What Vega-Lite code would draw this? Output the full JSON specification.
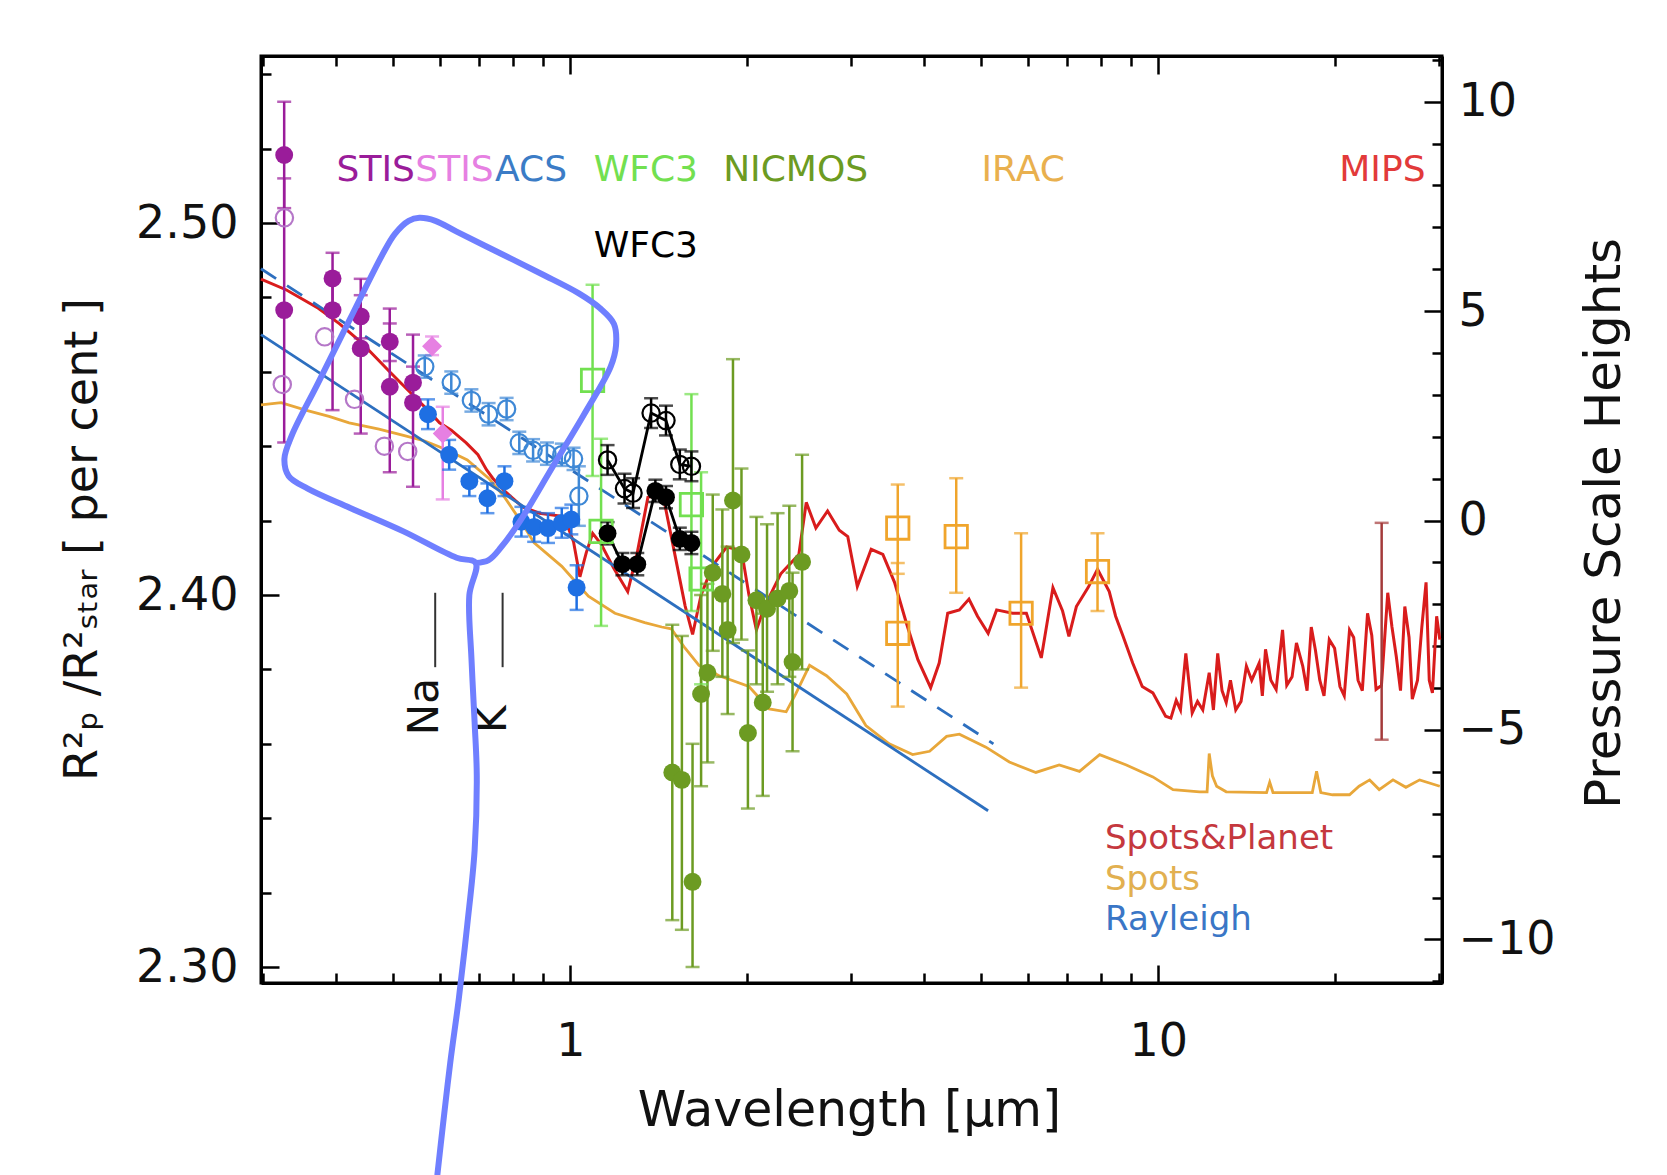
{
  "$schema": "https://vega.github.io/schema/vega-lite/v6.json",
  "width": 1181,
  "height": 927,
  "autosize": {"type": "none"},
  "padding": {"left": 261, "top": 56, "right": 225, "bottom": 192},
  "background": "white",
  "config": {
    "view": {"stroke": "black", "strokeWidth": 3},
    "axis": {"domainColor": "black", "domainWidth": 3, "tickColor": "black", "tickWidth": 2.5, "labelFont": "DejaVu Sans", "labelFontSize": 46, "labelColor": "#111", "titleFont": "DejaVu Sans", "titleFontWeight": "normal", "titleColor": "#111", "grid": false, "labelOverlap": false, "labelFlush": false, "labelBound": false}
  },
  "datasets": {
    "models": [
      {"m":"red","lam":0.2977,"v":2.4849},{"m":"red","lam":0.329,"v":2.482},{"m":"red","lam":0.3726,"v":2.4771},{"m":"red","lam":0.4051,"v":2.4729},{"m":"red","lam":0.4403,"v":2.468},{"m":"red","lam":0.4928,"v":2.46},{"m":"red","lam":0.5401,"v":2.4537},{"m":"red","lam":0.5772,"v":2.4491},{"m":"red","lam":0.5991,"v":2.4463},{"m":"red","lam":0.6273,"v":2.4443},{"m":"red","lam":0.6651,"v":2.4409},{"m":"red","lam":0.6964,"v":2.4377},{"m":"red","lam":0.72,"v":2.4337},{"m":"red","lam":0.7379,"v":2.4314},{"m":"red","lam":0.7727,"v":2.428},{"m":"red","lam":0.8291,"v":2.4237},{"m":"red","lam":0.8863,"v":2.422},{"m":"red","lam":0.9754,"v":2.4211},{"m":"red","lam":1.0126,"v":2.4143},{"m":"red","lam":1.0382,"v":2.4049},{"m":"red","lam":1.0645,"v":2.4114},{"m":"red","lam":1.0914,"v":2.4166},{"m":"red","lam":1.1282,"v":2.4137},{"m":"red","lam":1.1862,"v":2.4071},{"m":"red","lam":1.2521,"v":2.4009},{"m":"red","lam":1.2999,"v":2.4114},{"m":"red","lam":1.3552,"v":2.4263},{"m":"red","lam":1.4364,"v":2.4271},{"m":"red","lam":1.5038,"v":2.4114},{"m":"red","lam":1.5677,"v":2.3971},{"m":"red","lam":1.6144,"v":2.3894},{"m":"red","lam":1.6691,"v":2.4},{"m":"red","lam":1.7474,"v":2.408},{"m":"red","lam":1.8446,"v":2.4129},{"m":"red","lam":1.9553,"v":2.412},{"m":"red","lam":2.0131,"v":2.4},{"m":"red","lam":2.0728,"v":2.3906},{"m":"red","lam":2.1428,"v":2.3971},{"m":"red","lam":2.2803,"v":2.4057},{"m":"red","lam":2.4477,"v":2.4109},{"m":"red","lam":2.5199,"v":2.4249},{"m":"red","lam":2.6166,"v":2.418},{"m":"red","lam":2.7393,"v":2.4226},{"m":"red","lam":2.8676,"v":2.4174},{"m":"red","lam":2.9648,"v":2.4157},{"m":"red","lam":3.0776,"v":2.4023},{"m":"red","lam":3.2494,"v":2.4123},{"m":"red","lam":3.4012,"v":2.4109},{"m":"red","lam":3.5606,"v":2.4034},{"m":"red","lam":3.7273,"v":2.3926},{"m":"red","lam":3.9018,"v":2.3826},{"m":"red","lam":4.102,"v":2.3751},{"m":"red","lam":4.2413,"v":2.3817},{"m":"red","lam":4.3853,"v":2.3951},{"m":"red","lam":4.5905,"v":2.396},{"m":"red","lam":4.766,"v":2.3989},{"m":"red","lam":4.9285,"v":2.3943},{"m":"red","lam":5.1378,"v":2.3897},{"m":"red","lam":5.3113,"v":2.396},{"m":"red","lam":5.6532,"v":2.3951},{"m":"red","lam":5.9683,"v":2.3951},{"m":"red","lam":6.3269,"v":2.3831},{"m":"red","lam":6.6222,"v":2.402},{"m":"red","lam":6.8771,"v":2.3957},{"m":"red","lam":7.0502,"v":2.3889},{"m":"red","lam":7.2593,"v":2.3969},{"m":"red","lam":7.5996,"v":2.402},{"m":"red","lam":7.8868,"v":2.4069},{"m":"red","lam":8.2565,"v":2.4009},{"m":"red","lam":8.4659,"v":2.3943},{"m":"red","lam":8.7161,"v":2.3889},{"m":"red","lam":9.0499,"v":2.3817},{"m":"red","lam":9.3955,"v":2.3754},{"m":"red","lam":9.7949,"v":2.3737},{"m":"red","lam":10.297,"v":2.3674},{"m":"red","lam":10.733,"v":2.3717},{"m":"red","lam":11.145,"v":2.3843},{"m":"red","lam":11.427,"v":2.3683},{"m":"red","lam":11.911,"v":2.3691},{"m":"red","lam":12.214,"v":2.3791},{"m":"red","lam":12.628,"v":2.3843},{"m":"red","lam":13.055,"v":2.3711},{"m":"red","lam":13.552,"v":2.3691},{"m":"red","lam":14.129,"v":2.3809},{"m":"red","lam":14.852,"v":2.3817},{"m":"red","lam":15.228,"v":2.3854},{"m":"red","lam":15.875,"v":2.3746},{"m":"red","lam":16.278,"v":2.3906},{"m":"red","lam":16.898,"v":2.378},{"m":"red","lam":17.618,"v":2.3809},{"m":"red","lam":18.217,"v":2.3914},{"m":"red","lam":18.834,"v":2.3771},{"m":"red","lam":19.548,"v":2.388},{"m":"red","lam":20.382,"v":2.3754},{"m":"red","lam":21.162,"v":2.3906},{"m":"red","lam":21.878,"v":2.3771},{"m":"red","lam":22.71,"v":2.3951},{"m":"red","lam":23.48,"v":2.3746},{"m":"red","lam":24.58,"v":2.4006},{"m":"red","lam":25.42,"v":2.3834},{"m":"red","lam":26.28,"v":2.3969},{"m":"red","lam":27.06,"v":2.372},{"m":"red","lam":28.56,"v":2.4034},{"m":"red","lam":29.28,"v":2.3737},{"m":"red","lam":30.14,"v":2.388},
      {"m":"red","lam":10.512,"v":2.3669},{"m":"red","lam":10.914,"v":2.3691},{"m":"red","lam":11.667,"v":2.3714},{"m":"red","lam":12.417,"v":2.3691},{"m":"red","lam":12.843,"v":2.3743},{"m":"red","lam":13.274,"v":2.3771},{"m":"red","lam":13.836,"v":2.3714},{"m":"red","lam":14.426,"v":2.3771},{"m":"red","lam":15.04,"v":2.3729},{"m":"red","lam":15.55,"v":2.3771},{"m":"red","lam":16.08,"v":2.3829},{"m":"red","lam":16.55,"v":2.3757},{"m":"red","lam":17.19,"v":2.3871},{"m":"red","lam":17.92,"v":2.3743},{"m":"red","lam":18.52,"v":2.3851},{"m":"red","lam":19.15,"v":2.3729},{"m":"red","lam":19.96,"v":2.3857},{"m":"red","lam":20.73,"v":2.3729},{"m":"red","lam":21.51,"v":2.3886},{"m":"red","lam":22.25,"v":2.3743},{"m":"red","lam":23.09,"v":2.3891},{"m":"red","lam":23.98,"v":2.3757},{"m":"red","lam":24.99,"v":2.3914},{"m":"red","lam":25.84,"v":2.3743},{"m":"red","lam":26.72,"v":2.3886},{"m":"red","lam":27.62,"v":2.3771},{"m":"red","lam":28.09,"v":2.3914},{"m":"red","lam":28.92,"v":2.3771},{"m":"red","lam":29.77,"v":2.3943},
      {"m":"spots","lam":0.2977,"v":2.4511},{"m":"spots","lam":0.3221,"v":2.4517},{"m":"spots","lam":0.3545,"v":2.4497},{"m":"spots","lam":0.3886,"v":2.448},{"m":"spots","lam":0.4205,"v":2.4463},{"m":"spots","lam":0.4726,"v":2.4446},{"m":"spots","lam":0.5201,"v":2.4429},{"m":"spots","lam":0.5654,"v":2.4414},{"m":"spots","lam":0.6144,"v":2.4391},{"m":"spots","lam":0.6679,"v":2.4363},{"m":"spots","lam":0.726,"v":2.4314},{"m":"spots","lam":0.7727,"v":2.4263},{"m":"spots","lam":0.8222,"v":2.42},{"m":"spots","lam":0.868,"v":2.414},{"m":"spots","lam":0.9672,"v":2.4077},{"m":"spots","lam":1.0733,"v":2.3997},{"m":"spots","lam":1.1909,"v":2.3951},{"m":"spots","lam":1.3384,"v":2.3926},{"m":"spots","lam":1.4305,"v":2.3914},{"m":"spots","lam":1.4851,"v":2.3909},{"m":"spots","lam":1.5677,"v":2.3857},{"m":"spots","lam":1.6553,"v":2.3811},{"m":"spots","lam":1.7915,"v":2.3783},{"m":"spots","lam":2.0131,"v":2.3754},{"m":"spots","lam":2.1788,"v":2.3694},{"m":"spots","lam":2.329,"v":2.3686},{"m":"spots","lam":2.4181,"v":2.3734},{"m":"spots","lam":2.5525,"v":2.3811},{"m":"spots","lam":2.7279,"v":2.3783},{"m":"spots","lam":2.9525,"v":2.3734},{"m":"spots","lam":3.1823,"v":2.3649},{"m":"spots","lam":3.4874,"v":2.36},{"m":"spots","lam":3.8221,"v":2.3571},{"m":"spots","lam":4.0851,"v":2.358},{"m":"spots","lam":4.3663,"v":2.362},{"m":"spots","lam":4.5905,"v":2.3626},{"m":"spots","lam":5.0936,"v":2.3591},{"m":"spots","lam":5.5822,"v":2.3551},{"m":"spots","lam":6.1944,"v":2.3523},{"m":"spots","lam":6.7866,"v":2.3543},{"m":"spots","lam":7.3484,"v":2.3526},{"m":"spots","lam":7.9524,"v":2.3571},{"m":"spots","lam":8.828,"v":2.3543},{"m":"spots","lam":9.7949,"v":2.3511},{"m":"spots","lam":10.6,"v":2.3477},{"m":"spots","lam":11.764,"v":2.3471},{"m":"spots","lam":12.113,"v":2.3471},{"m":"spots","lam":12.214,"v":2.3574},{"m":"spots","lam":12.367,"v":2.3514},{"m":"spots","lam":12.575,"v":2.3486},{"m":"spots","lam":13.055,"v":2.3471},{"m":"spots","lam":15.29,"v":2.3469},{"m":"spots","lam":15.48,"v":2.3497},{"m":"spots","lam":15.68,"v":2.3469},{"m":"spots","lam":18.29,"v":2.3469},{"m":"spots","lam":18.6,"v":2.3526},{"m":"spots","lam":18.91,"v":2.3469},{"m":"spots","lam":19.8,"v":2.3463},{"m":"spots","lam":21.16,"v":2.3463},{"m":"spots","lam":21.97,"v":2.3486},{"m":"spots","lam":22.9,"v":2.3503},{"m":"spots","lam":23.77,"v":2.3477},{"m":"spots","lam":25.09,"v":2.3503},{"m":"spots","lam":26.39,"v":2.3483},{"m":"spots","lam":27.85,"v":2.3503},{"m":"spots","lam":30.14,"v":2.3486},
      {"m":"ray","lam":0.2977,"v":2.47},{"m":"ray","lam":5.137,"v":2.342},
      {"m":"rayd","lam":0.2977,"v":2.4877},{"m":"rayd","lam":5.245,"v":2.36}
    ],
    "pts": [
      {"s":"stisA","lam":0.326,"v":2.5183,"lo":2.504,"hi":2.5326},
      {"s":"stisA","lam":0.326,"v":2.4766,"lo":2.441,"hi":2.512},
      {"s":"stisA","lam":0.394,"v":2.4851,"lo":2.478,"hi":2.492},
      {"s":"stisA","lam":0.394,"v":2.4766,"lo":2.4497,"hi":2.4866},
      {"s":"stisA","lam":0.44,"v":2.4749,"lo":2.469,"hi":2.4806},
      {"s":"stisA","lam":0.44,"v":2.4663,"lo":2.4434,"hi":2.485},
      {"s":"stisA","lam":0.493,"v":2.4681,"lo":2.4629,"hi":2.473},
      {"s":"stisA","lam":0.493,"v":2.456,"lo":2.433,"hi":2.477},
      {"s":"stisA","lam":0.54,"v":2.4571,"lo":2.4517,"hi":2.4614},
      {"s":"stisA","lam":0.54,"v":2.4517,"lo":2.4291,"hi":2.47},
      {"s":"stisAo","lam":0.3263,"v":2.5014},
      {"s":"stisAo","lam":0.3236,"v":2.4566},
      {"s":"stisAo","lam":0.382,"v":2.4694},
      {"s":"stisAo","lam":0.4294,"v":2.4526},
      {"s":"stisAo","lam":0.4827,"v":2.44},
      {"s":"stisAo","lam":0.5289,"v":2.4386},
      {"s":"stisB","lam":0.5818,"v":2.4669,"lo":2.4645,"hi":2.4695},
      {"s":"stisB","lam":0.6067,"v":2.4434,"lo":2.4257,"hi":2.4506},
      {"s":"acs","lam":0.5726,"v":2.4486,"lo":2.4446,"hi":2.4526},
      {"s":"acs","lam":0.6221,"v":2.4377,"lo":2.4337,"hi":2.4417},
      {"s":"acs","lam":0.6733,"v":2.4306,"lo":2.4266,"hi":2.4346},
      {"s":"acs","lam":0.7227,"v":2.426,"lo":2.422,"hi":2.43},
      {"s":"acs","lam":0.7726,"v":2.4306,"lo":2.4266,"hi":2.4346},
      {"s":"acs","lam":0.8256,"v":2.4197,"lo":2.4157,"hi":2.4237},
      {"s":"acs","lam":0.868,"v":2.4183,"lo":2.4143,"hi":2.4223},
      {"s":"acs","lam":0.9163,"v":2.418,"lo":2.414,"hi":2.422},
      {"s":"acs","lam":0.967,"v":2.4194,"lo":2.4154,"hi":2.4234},
      {"s":"acs","lam":1.004,"v":2.4203,"lo":2.4163,"hi":2.4243},
      {"s":"acs","lam":1.025,"v":2.402,"lo":2.396,"hi":2.408},
      {"s":"acso","lam":0.5654,"v":2.4614,"lo":2.4584,"hi":2.4644},
      {"s":"acso","lam":0.6273,"v":2.4571,"lo":2.4541,"hi":2.4601},
      {"s":"acso","lam":0.6788,"v":2.4523,"lo":2.4493,"hi":2.4553},
      {"s":"acso","lam":0.726,"v":2.4486,"lo":2.4456,"hi":2.4516},
      {"s":"acso","lam":0.7791,"v":2.45,"lo":2.447,"hi":2.453},
      {"s":"acso","lam":0.8188,"v":2.4409,"lo":2.4379,"hi":2.4439},
      {"s":"acso","lam":0.8643,"v":2.4389,"lo":2.4359,"hi":2.4419},
      {"s":"acso","lam":0.9125,"v":2.438,"lo":2.435,"hi":2.441},
      {"s":"acso","lam":0.9672,"v":2.4377,"lo":2.4347,"hi":2.4407},
      {"s":"acso","lam":1.0126,"v":2.4366,"lo":2.4336,"hi":2.4396},
      {"s":"acso","lam":1.034,"v":2.4266,"lo":2.4186,"hi":2.4346},
      {"s":"wfc3g","lam":1.091,"v":2.4577,"lo":2.432,"hi":2.4834},
      {"s":"wfc3g","lam":1.128,"v":2.4171,"lo":2.3917,"hi":2.442},
      {"s":"wfc3g","lam":1.607,"v":2.4243,"lo":2.3957,"hi":2.454},
      {"s":"wfc3g","lam":1.669,"v":2.4043,"lo":2.376,"hi":2.433},
      {"s":"nic","lam":1.491,"v":2.3523,"lo":2.3126,"hi":2.392},
      {"s":"nic","lam":1.548,"v":2.3503,"lo":2.31,"hi":2.389},
      {"s":"nic","lam":1.614,"v":2.3229,"lo":2.3,"hi":2.36},
      {"s":"nic","lam":1.669,"v":2.3734,"lo":2.3486,"hi":2.4},
      {"s":"nic","lam":1.711,"v":2.3791,"lo":2.355,"hi":2.403},
      {"s":"nic","lam":1.747,"v":2.406,"lo":2.385,"hi":2.427},
      {"s":"nic","lam":1.814,"v":2.4003,"lo":2.378,"hi":2.423},
      {"s":"nic","lam":1.852,"v":2.3906,"lo":2.368,"hi":2.413},
      {"s":"nic","lam":1.891,"v":2.4254,"lo":2.3871,"hi":2.4634},
      {"s":"nic","lam":1.955,"v":2.4109,"lo":2.388,"hi":2.434},
      {"s":"nic","lam":2.005,"v":2.3629,"lo":2.3426,"hi":2.3851},
      {"s":"nic","lam":2.073,"v":2.3986,"lo":2.376,"hi":2.421},
      {"s":"nic","lam":2.125,"v":2.3711,"lo":2.346,"hi":2.395},
      {"s":"nic","lam":2.161,"v":2.3963,"lo":2.374,"hi":2.419},
      {"s":"nic","lam":2.252,"v":2.3991,"lo":2.376,"hi":2.422},
      {"s":"nic","lam":2.358,"v":2.4011,"lo":2.378,"hi":2.424},
      {"s":"nic","lam":2.388,"v":2.382,"lo":2.358,"hi":2.406},
      {"s":"nic","lam":2.479,"v":2.4089,"lo":2.38,"hi":2.4377},
      {"s":"wfc3k","lam":1.157,"v":2.4166,"lo":2.4136,"hi":2.4196},
      {"s":"wfc3k","lam":1.2263,"v":2.4083,"lo":2.4053,"hi":2.4113},
      {"s":"wfc3k","lam":1.2999,"v":2.4083,"lo":2.4053,"hi":2.4113},
      {"s":"wfc3k","lam":1.3953,"v":2.428,"lo":2.425,"hi":2.431},
      {"s":"wfc3k","lam":1.4545,"v":2.4263,"lo":2.4233,"hi":2.4293},
      {"s":"wfc3k","lam":1.5356,"v":2.4151,"lo":2.4121,"hi":2.4181},
      {"s":"wfc3k","lam":1.607,"v":2.414,"lo":2.411,"hi":2.417},
      {"s":"wfc3ko","lam":1.157,"v":2.4363,"lo":2.4323,"hi":2.4403},
      {"s":"wfc3ko","lam":1.2365,"v":2.4286,"lo":2.4246,"hi":2.4326},
      {"s":"wfc3ko","lam":1.2785,"v":2.4274,"lo":2.4234,"hi":2.4314},
      {"s":"wfc3ko","lam":1.3722,"v":2.4489,"lo":2.4449,"hi":2.4529},
      {"s":"wfc3ko","lam":1.4545,"v":2.4469,"lo":2.4429,"hi":2.4509},
      {"s":"wfc3ko","lam":1.5356,"v":2.4351,"lo":2.4311,"hi":2.4391},
      {"s":"wfc3ko","lam":1.607,"v":2.4346,"lo":2.4306,"hi":2.4386},
      {"s":"irac","lam":3.606,"v":2.418,"lo":2.4057,"hi":2.4297},
      {"s":"irac","lam":3.606,"v":2.3897,"lo":2.37,"hi":2.4086},
      {"s":"irac","lam":4.534,"v":2.4157,"lo":2.4006,"hi":2.4314},
      {"s":"irac","lam":5.846,"v":2.3951,"lo":2.3751,"hi":2.4166},
      {"s":"irac","lam":7.886,"v":2.4063,"lo":2.3957,"hi":2.4166},
      {"s":"mips","lam":24.0,"v":2.3903,"lo":2.3611,"hi":2.4194}
    ],
    "annot": [
      {"i":0,"lam":0.5942,"v":2.2443},{"i":1,"lam":0.6067,"v":2.2571},{"i":2,"lam":0.6248,"v":2.2743},{"i":3,"lam":0.646,"v":2.2914},{"i":4,"lam":0.6679,"v":2.3114},{"i":5,"lam":0.6874,"v":2.3314},{"i":6,"lam":0.6932,"v":2.3514},{"i":7,"lam":0.6874,"v":2.3657},{"i":8,"lam":0.6789,"v":2.3829},{"i":9,"lam":0.6733,"v":2.4},{"i":10,"lam":0.6903,"v":2.4086},{"i":11,"lam":0.6406,"v":2.41},{"i":12,"lam":0.5201,"v":2.4171},{"i":13,"lam":0.4222,"v":2.4234},{"i":14,"lam":0.3575,"v":2.4286},{"i":15,"lam":0.3317,"v":2.432},{"i":16,"lam":0.3263,"v":2.4366},{"i":17,"lam":0.3359,"v":2.4429},{"i":18,"lam":0.3726,"v":2.4571},{"i":19,"lam":0.4222,"v":2.4743},{"i":20,"lam":0.4786,"v":2.4914},{"i":21,"lam":0.503,"v":2.4971},{"i":22,"lam":0.531,"v":2.5006},{"i":23,"lam":0.5537,"v":2.5014},{"i":24,"lam":0.5893,"v":2.5006},{"i":25,"lam":0.6406,"v":2.4977},{"i":26,"lam":0.7566,"v":2.492},{"i":27,"lam":0.8938,"v":2.4863},{"i":28,"lam":1.0339,"v":2.4811},{"i":29,"lam":1.1235,"v":2.4771},{"i":30,"lam":1.1862,"v":2.4729},{"i":31,"lam":1.196,"v":2.4671},{"i":32,"lam":1.1713,"v":2.4614},{"i":33,"lam":1.0556,"v":2.4486},{"i":34,"lam":0.9316,"v":2.4343},{"i":35,"lam":0.8222,"v":2.42},{"i":36,"lam":0.7629,"v":2.4129},{"i":37,"lam":0.726,"v":2.4094},{"i":38,"lam":0.6903,"v":2.4086}
    ],
    "nak": [
      {"lam":0.589,"v":2.4006,"v2":2.3806},
      {"lam":0.767,"v":2.4006,"v2":2.3806}
    ],
    "naktext": [
      {"lam":0.5654,"v":2.37,"t":"Na"},
      {"lam":0.738,"v":2.3666,"t":"K"}
    ],
    "toplabels": [
      {"s":"stisA","lam":0.4667,"v":2.5143,"t":"STIS"},
      {"s":"stisB","lam":0.6353,"v":2.5143,"t":"STIS"},
      {"s":"acsT","lam":0.8572,"v":2.5143,"t":"ACS"},
      {"s":"wfc3g","lam":1.344,"v":2.5143,"t":"WFC3"},
      {"s":"nic","lam":2.417,"v":2.5143,"t":"NICMOS"},
      {"s":"iracT","lam":5.893,"v":2.5143,"t":"IRAC"},
      {"s":"redT","lam":24.07,"v":2.5143,"t":"MIPS"},
      {"s":"wfc3k","lam":1.344,"v":2.4937,"t":"WFC3"}
    ],
    "legendlabels": [
      {"s":"spT","lam":8.121,"v":2.3343,"t":"Spots&Planet"},
      {"s":"spotsT","lam":8.121,"v":2.3234,"t":"Spots"},
      {"s":"rayT","lam":8.121,"v":2.3126,"t":"Rayleigh"}
    ]
  },
  "layer": [
    {
      "layer": [
        {
          "data": {"name": "models"},
          "transform": [{"filter": "datum.m == 'spots'"}],
          "mark": {"type": "line", "color": "#e8a73a", "strokeWidth": 2.8},
          "encoding": {
            "x": {"field": "lam", "type": "quantitative",
              "scale": {"type": "log", "domain": [0.2977, 30.4], "nice": false},
              "axis": {"orient": "bottom",
                "values": [0.3,0.4,0.5,0.6,0.7,0.8,0.9,1,2,3,4,5,6,7,8,9,10,20,30],
                "labelExpr": "(datum.value == 1 || datum.value == 10) ? format(datum.value, 'd') : ''",
                "tickSize": {"condition": {"test": "datum.value == 1 || datum.value == 10", "value": -18}, "value": -10},
                "labelPadding": 54,
                "title": "Wavelength  [μm]", "titleFontSize": 49,
                "titleX": 588, "titleY": 142, "titleBaseline": "alphabetic", "titleAlign": "center"}},
            "y": {"field": "v", "type": "quantitative",
              "scale": {"domain": [2.2957, 2.5449], "nice": false, "zero": false},
              "axis": {"orient": "left",
                "values": [2.3,2.31,2.32,2.33,2.34,2.35,2.36,2.37,2.38,2.39,2.4,2.41,2.42,2.43,2.44,2.45,2.46,2.47,2.48,2.49,2.5,2.51,2.52,2.53,2.54],
                "format": ".2f",
                "labelExpr": "round(datum.value*100) % 5 == 0 ? datum.label : ''",
                "tickSize": {"condition": {"test": "round(datum.value*100) % 5 == 0", "value": -18}, "value": -10},
                "labelPadding": 41,
                "title": "R²ₚ /R²ₛₜₐᵣ   [  per  cent  ]", "titleFontSize": 46,
                "titleAngle": -90, "titleX": -165, "titleY": 483, "titleBaseline": "alphabetic", "titleAlign": "center"}}
          }
        },
        {
          "data": {"name": "models"},
          "transform": [{"filter": "datum.m == 'red'"}],
          "mark": {"type": "line", "color": "#d91c1c", "strokeWidth": 3},
          "encoding": {"x": {"field": "lam", "type": "quantitative"}, "y": {"field": "v", "type": "quantitative"}}
        },
        {
          "data": {"name": "models"},
          "transform": [{"filter": "datum.m == 'ray'"}],
          "mark": {"type": "line", "color": "#2d6fbf", "strokeWidth": 2.8},
          "encoding": {"x": {"field": "lam", "type": "quantitative"}, "y": {"field": "v", "type": "quantitative"}}
        },
        {
          "data": {"name": "models"},
          "transform": [{"filter": "datum.m == 'rayd'"}],
          "mark": {"type": "line", "color": "#2d6fbf", "strokeWidth": 2.8, "strokeDash": [18, 13]},
          "encoding": {"x": {"field": "lam", "type": "quantitative"}, "y": {"field": "v", "type": "quantitative"}}
        },
        {
          "data": {"name": "pts"},
          "transform": [{"filter": "isValid(datum.lo)"}],
          "mark": {"type": "rule", "strokeWidth": 2.5},
          "encoding": {
            "x": {"field": "lam", "type": "quantitative"},
            "y": {"field": "lo", "type": "quantitative"},
            "y2": {"field": "hi"},
            "color": {"field": "s", "type": "nominal", "legend": null,
              "scale": {"domain": ["stisA","stisAo","stisB","acs","acso","wfc3g","wfc3k","wfc3ko","nic","irac","mips","acsT","iracT","redT","spT","spotsT","rayT"],
                        "range": ["#9a1c9a","#b577c8","#e680e2","#1e6fe3","#3e88d6","#72e050","#000000","#000000","#6c9b22","#f0a52c","#a43a3a","#3b7cc6","#e9b04e","#e23a3a","#c5383e","#e2b050","#3a76c6"]}}
          }
        },
        {
          "data": {"name": "pts"},
          "transform": [{"filter": "isValid(datum.lo)"}],
          "mark": {"type": "tick", "orient": "horizontal", "size": 14, "thickness": 2.5},
          "encoding": {
            "x": {"field": "lam", "type": "quantitative"},
            "y": {"field": "lo", "type": "quantitative"},
            "color": {"field": "s", "type": "nominal", "legend": null,
              "scale": {"domain": ["stisA","stisAo","stisB","acs","acso","wfc3g","wfc3k","wfc3ko","nic","irac","mips","acsT","iracT","redT","spT","spotsT","rayT"],
                        "range": ["#9a1c9a","#b577c8","#e680e2","#1e6fe3","#3e88d6","#72e050","#000000","#000000","#6c9b22","#f0a52c","#a43a3a","#3b7cc6","#e9b04e","#e23a3a","#c5383e","#e2b050","#3a76c6"]}}
          }
        },
        {
          "data": {"name": "pts"},
          "transform": [{"filter": "isValid(datum.hi)"}],
          "mark": {"type": "tick", "orient": "horizontal", "size": 14, "thickness": 2.5},
          "encoding": {
            "x": {"field": "lam", "type": "quantitative"},
            "y": {"field": "hi", "type": "quantitative"},
            "color": {"field": "s", "type": "nominal", "legend": null,
              "scale": {"domain": ["stisA","stisAo","stisB","acs","acso","wfc3g","wfc3k","wfc3ko","nic","irac","mips","acsT","iracT","redT","spT","spotsT","rayT"],
                        "range": ["#9a1c9a","#b577c8","#e680e2","#1e6fe3","#3e88d6","#72e050","#000000","#000000","#6c9b22","#f0a52c","#a43a3a","#3b7cc6","#e9b04e","#e23a3a","#c5383e","#e2b050","#3a76c6"]}}
          }
        },
        {
          "data": {"name": "pts"},
          "transform": [{"filter": {"field": "s", "oneOf": ["wfc3k", "wfc3ko"]}}],
          "mark": {"type": "line", "color": "#000000", "strokeWidth": 2.8},
          "encoding": {
            "x": {"field": "lam", "type": "quantitative"},
            "y": {"field": "v", "type": "quantitative"},
            "detail": {"field": "s"},
            "order": {"field": "lam"}
          }
        },
        {
          "data": {"name": "pts"},
          "transform": [{"filter": {"field": "s", "oneOf": ["stisAo", "acso", "wfc3ko"]}}],
          "mark": {"type": "point", "shape": "circle", "filled": false, "size": 300, "strokeWidth": 2.2, "opacity": 1},
          "encoding": {
            "x": {"field": "lam", "type": "quantitative"},
            "y": {"field": "v", "type": "quantitative"},
            "color": {"field": "s", "type": "nominal", "legend": null,
              "scale": {"domain": ["stisA","stisAo","stisB","acs","acso","wfc3g","wfc3k","wfc3ko","nic","irac","mips","acsT","iracT","redT","spT","spotsT","rayT"],
                        "range": ["#9a1c9a","#b577c8","#e680e2","#1e6fe3","#3e88d6","#72e050","#000000","#000000","#6c9b22","#f0a52c","#a43a3a","#3b7cc6","#e9b04e","#e23a3a","#c5383e","#e2b050","#3a76c6"]}}
          }
        },
        {
          "data": {"name": "pts"},
          "transform": [{"filter": {"field": "s", "oneOf": ["wfc3g", "irac"]}}],
          "mark": {"type": "point", "shape": "square", "filled": false, "size": 500, "strokeWidth": 2.8, "opacity": 1},
          "encoding": {
            "x": {"field": "lam", "type": "quantitative"},
            "y": {"field": "v", "type": "quantitative"},
            "color": {"field": "s", "type": "nominal", "legend": null,
              "scale": {"domain": ["stisA","stisAo","stisB","acs","acso","wfc3g","wfc3k","wfc3ko","nic","irac","mips","acsT","iracT","redT","spT","spotsT","rayT"],
                        "range": ["#9a1c9a","#b577c8","#e680e2","#1e6fe3","#3e88d6","#72e050","#000000","#000000","#6c9b22","#f0a52c","#a43a3a","#3b7cc6","#e9b04e","#e23a3a","#c5383e","#e2b050","#3a76c6"]}}
          }
        },
        {
          "data": {"name": "pts"},
          "transform": [{"filter": {"field": "s", "oneOf": ["stisA", "acs", "nic", "wfc3k"]}}],
          "mark": {"type": "point", "shape": "circle", "filled": true, "size": 320, "opacity": 1},
          "encoding": {
            "x": {"field": "lam", "type": "quantitative"},
            "y": {"field": "v", "type": "quantitative"},
            "color": {"field": "s", "type": "nominal", "legend": null,
              "scale": {"domain": ["stisA","stisAo","stisB","acs","acso","wfc3g","wfc3k","wfc3ko","nic","irac","mips","acsT","iracT","redT","spT","spotsT","rayT"],
                        "range": ["#9a1c9a","#b577c8","#e680e2","#1e6fe3","#3e88d6","#72e050","#000000","#000000","#6c9b22","#f0a52c","#a43a3a","#3b7cc6","#e9b04e","#e23a3a","#c5383e","#e2b050","#3a76c6"]}}
          }
        },
        {
          "data": {"name": "pts"},
          "transform": [{"filter": "datum.s == 'stisB'"}],
          "mark": {"type": "point", "shape": "diamond", "filled": true, "size": 400, "opacity": 1},
          "encoding": {
            "x": {"field": "lam", "type": "quantitative"},
            "y": {"field": "v", "type": "quantitative"},
            "color": {"field": "s", "type": "nominal", "legend": null,
              "scale": {"domain": ["stisA","stisAo","stisB","acs","acso","wfc3g","wfc3k","wfc3ko","nic","irac","mips","acsT","iracT","redT","spT","spotsT","rayT"],
                        "range": ["#9a1c9a","#b577c8","#e680e2","#1e6fe3","#3e88d6","#72e050","#000000","#000000","#6c9b22","#f0a52c","#a43a3a","#3b7cc6","#e9b04e","#e23a3a","#c5383e","#e2b050","#3a76c6"]}}
          }
        },
        {
          "data": {"name": "nak"},
          "mark": {"type": "rule", "color": "#333333", "strokeWidth": 2},
          "encoding": {
            "x": {"field": "lam", "type": "quantitative"},
            "y": {"field": "v", "type": "quantitative"},
            "y2": {"field": "v2"}
          }
        },
        {
          "data": {"name": "naktext"},
          "mark": {"type": "text", "angle": -90, "align": "center", "baseline": "middle", "font": "DejaVu Sans", "fontSize": 42, "color": "#111111"},
          "encoding": {
            "x": {"field": "lam", "type": "quantitative"},
            "y": {"field": "v", "type": "quantitative"},
            "text": {"field": "t"}
          }
        },
        {
          "data": {"name": "toplabels"},
          "mark": {"type": "text", "align": "center", "baseline": "middle", "font": "DejaVu Sans", "fontSize": 36},
          "encoding": {
            "x": {"field": "lam", "type": "quantitative"},
            "y": {"field": "v", "type": "quantitative"},
            "text": {"field": "t"},
            "color": {"field": "s", "type": "nominal", "legend": null,
              "scale": {"domain": ["stisA","stisAo","stisB","acs","acso","wfc3g","wfc3k","wfc3ko","nic","irac","mips","acsT","iracT","redT","spT","spotsT","rayT"],
                        "range": ["#9a1c9a","#b577c8","#e680e2","#1e6fe3","#3e88d6","#72e050","#000000","#000000","#6c9b22","#f0a52c","#a43a3a","#3b7cc6","#e9b04e","#e23a3a","#c5383e","#e2b050","#3a76c6"]}}
          }
        },
        {
          "data": {"name": "legendlabels"},
          "mark": {"type": "text", "align": "left", "baseline": "middle", "font": "DejaVu Sans", "fontSize": 34},
          "encoding": {
            "x": {"field": "lam", "type": "quantitative"},
            "y": {"field": "v", "type": "quantitative"},
            "text": {"field": "t"},
            "color": {"field": "s", "type": "nominal", "legend": null,
              "scale": {"domain": ["stisA","stisAo","stisB","acs","acso","wfc3g","wfc3k","wfc3ko","nic","irac","mips","acsT","iracT","redT","spT","spotsT","rayT"],
                        "range": ["#9a1c9a","#b577c8","#e680e2","#1e6fe3","#3e88d6","#72e050","#000000","#000000","#6c9b22","#f0a52c","#a43a3a","#3b7cc6","#e9b04e","#e23a3a","#c5383e","#e2b050","#3a76c6"]}}
          }
        },
        {
          "data": {"name": "annot"},
          "mark": {"type": "line", "color": "#6f7fff", "strokeWidth": 6, "interpolate": "catmull-rom", "clip": false, "strokeCap": "round", "strokeJoin": "round"},
          "encoding": {
            "x": {"field": "lam", "type": "quantitative"},
            "y": {"field": "v", "type": "quantitative"},
            "order": {"field": "i"}
          }
        }
      ]
    },
    {
      "data": {"values": [{"lam": 1, "h": 0}]},
      "mark": {"type": "point", "opacity": 0},
      "encoding": {
        "x": {"field": "lam", "type": "quantitative",
          "scale": {"type": "log", "domain": [0.2977, 30.4], "nice": false},
          "axis": {"orient": "top",
            "values": [0.3,0.4,0.5,0.6,0.7,0.8,0.9,1,2,3,4,5,6,7,8,9,10,20,30],
            "labels": false, "title": null,
            "tickSize": {"condition": {"test": "datum.value == 1 || datum.value == 10", "value": -18}, "value": -10}}},
        "y": {"field": "h", "type": "quantitative",
          "scale": {"domain": [-11.04, 11.09], "nice": false, "zero": false},
          "axis": {"orient": "right",
            "values": [-11,-10,-9,-8,-7,-6,-5,-4,-3,-2,-1,0,1,2,3,4,5,6,7,8,9,10,11],
            "format": "d",
            "labelExpr": "datum.value % 5 == 0 ? datum.label : ''",
            "tickSize": {"condition": {"test": "datum.value % 5 == 0", "value": -18}, "value": -10},
            "labelPadding": 34,
            "title": "Pressure  Scale  Heights", "titleFontSize": 50,
            "titleAngle": -90, "titleX": 177, "titleY": 467, "titleBaseline": "alphabetic", "titleAlign": "center"}}
      }
    }
  ],
  "resolve": {"scale": {"y": "independent"}, "axis": {"x": "independent", "y": "independent"}}
}
